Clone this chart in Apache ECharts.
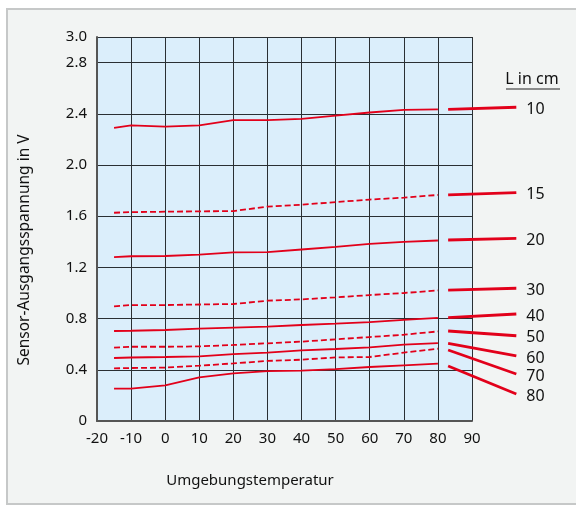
<!DOCTYPE html>
<html><head><meta charset="utf-8">
<script src="https://cdn.jsdelivr.net/npm/echarts@6/dist/echarts.min.js"></script>
<style>html,body{margin:0;padding:0;background:#fff}#c{width:576px;height:506px}</style>
</head><body><div id="c"></div>
<script>
const temps = [-15,-10,0,10,20,30,40,50,60,70,80];
const lengths = ['10','15','20','30','40','50','60','70','80'];
const s10 = [2.29, 2.31, 2.30, 2.31, 2.35, 2.35, 2.36, 2.385, 2.41, 2.43, 2.435];
const s15 = [1.627, 1.632, 1.635, 1.638, 1.64, 1.675, 1.69, 1.71, 1.73, 1.745, 1.766];
const s20 = [1.281, 1.287, 1.289, 1.30, 1.318, 1.32, 1.34, 1.36, 1.383, 1.40, 1.41];
const s30 = [0.896, 0.906, 0.906, 0.91, 0.914, 0.94, 0.95, 0.966, 0.984, 1.00, 1.02];
const s40 = [0.703, 0.705, 0.711, 0.721, 0.729, 0.737, 0.75, 0.76, 0.773, 0.79, 0.805];
const s50 = [0.573, 0.58, 0.58, 0.583, 0.594, 0.607, 0.62, 0.638, 0.656, 0.674, 0.70];
const s60 = [0.492, 0.496, 0.50, 0.505, 0.523, 0.534, 0.552, 0.5625, 0.575, 0.596, 0.609];
const s70 = [0.411, 0.414, 0.417, 0.432, 0.45, 0.469, 0.479, 0.497, 0.50, 0.534, 0.565];
const s80 = [0.253, 0.253, 0.279, 0.341, 0.372, 0.39, 0.393, 0.406, 0.422, 0.435, 0.448];
const allSeries = [s10, s15, s20, s30, s40, s50, s60, s70, s80];
const dashed = [false, true, false, true, false, true, false, true, false];
const leaderX = [83, 103];
const leaderStart = [2.435, 1.766, 1.414, 1.023, 0.807, 0.703, 0.607, 0.555, 0.43];
const leaderEnd = [2.451, 1.784, 1.427, 1.037, 0.836, 0.666, 0.508, 0.367, 0.211];
const xTicks = [-20, 90, 10];
const RED = '#e2001a';
const FONT = 'Noto Sans';

const series = [];
allSeries.forEach((vals, i) => {
  series.push({
    type: 'line', name: 'L' + lengths[i], symbol: 'none', silent: true,
    xAxisIndex: 0, yAxisIndex: 0,
    data: temps.map((t, k) => [t, vals[k]]),
    lineStyle: { color: RED, width: 1.8, type: dashed[i] ? [6, 3] : 'solid' }
  });
  series.push({
    type: 'line', name: 'leader' + lengths[i], symbol: 'none', silent: true,
    xAxisIndex: 1, yAxisIndex: 1,
    data: [[leaderX[0], leaderStart[i]], [leaderX[1], leaderEnd[i]]],
    lineStyle: { color: RED, width: 2.8 },
    endLabel: { show: true, formatter: lengths[i], distance: 10, offset: [0, 2], color: '#111', fontSize: 16, fontFamily: FONT }
  });
});

// second (hidden) grid shares the same scale but extends to the right edge
const plotW = 375;
const extMax = xTicks[0] + (576 - 97) / plotW * (xTicks[1] - xTicks[0]);

const chart = echarts.init(document.getElementById('c'));
chart.setOption({
  animation: false,
  backgroundColor: '#ffffff',
  graphic: [
    { type: 'rect', z: -10, shape: { x: 7, y: 9, width: 620, height: 495 },
      style: { fill: '#f2f4f3', stroke: '#c6c8c8', lineWidth: 2 } },
    { type: 'rect', z: -5, shape: { x: 97, y: 37, width: 375, height: 384 },
      style: { fill: '#dbeefb' } },
    { type: 'text', x: 250, y: 481, style: { text: 'Umgebungstemperatur', align: 'center', verticalAlign: 'middle', fontSize: 15, fontFamily: FONT, fill: '#111' } },
    { type: 'text', x: 25, y: 250, rotation: Math.PI / 2, style: { text: 'Sensor-Ausgangsspannung in V', align: 'center', verticalAlign: 'middle', fontSize: 15.5, fontFamily: FONT, fill: '#111' } },
    { type: 'text', x: 532, y: 79, style: { text: 'L in cm', align: 'center', verticalAlign: 'middle', fontSize: 16, fontFamily: FONT, fill: '#111' } },
    { type: 'line', shape: { x1: 506, y1: 89, x2: 560, y2: 89 }, style: { stroke: '#222', lineWidth: 1 } }
  ],
  grid: [
    { left: 97, right: 104, top: 37, bottom: 85 },
    { left: 97, right: 0, top: 37, bottom: 85 }
  ],
  xAxis: [{
    type: 'value', min: xTicks[0], max: xTicks[1], interval: xTicks[2], gridIndex: 0,
    axisLine: { show: true, onZero: false, lineStyle: { color: '#555', width: 2 } },
    axisTick: { show: false },
    axisLabel: { color: '#111', fontSize: 15, fontFamily: FONT, margin: 10 },
    splitLine: { show: true, lineStyle: { color: '#2a2f33', width: 1 } }
  }, {
    type: 'value', min: xTicks[0], max: extMax, gridIndex: 1, show: false
  }],
  yAxis: [{
    type: 'value', min: 0, max: 3.0, interval: 0.4, gridIndex: 0,
    axisLine: { show: true, onZero: false, lineStyle: { color: '#555', width: 2 } },
    axisTick: { show: false },
    axisLabel: { color: '#111', fontSize: 15, fontFamily: FONT, margin: 10,
      formatter: v => v === 0 ? '0' : v.toFixed(1) },
    splitLine: { show: true, lineStyle: { color: '#2a2f33', width: 1 } }
  }, {
    type: 'value', min: 0, max: 3.0, gridIndex: 1, show: false
  }],
  series: series
});
</script></body></html>
